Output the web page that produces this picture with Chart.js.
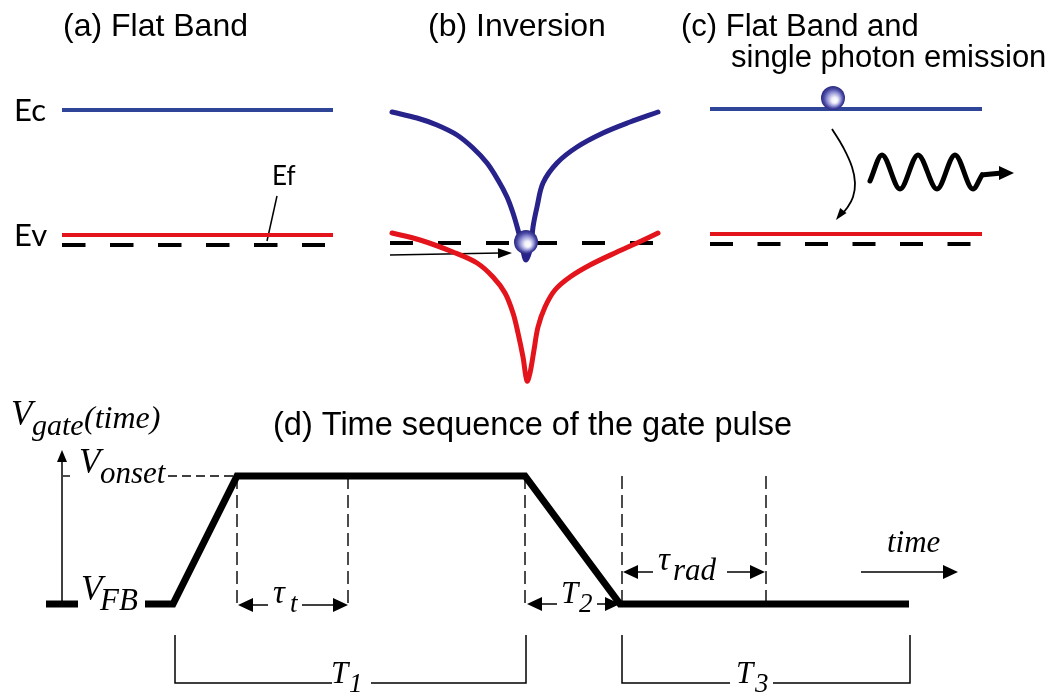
<!DOCTYPE html>
<html>
<head>
<meta charset="utf-8">
<script src="https://cdn.jsdelivr.net/npm/chart.js@4.4.1/dist/chart.umd.min.js"></script>
<style>
html,body{margin:0;padding:0;background:#ffffff;}
#wrap{width:1057px;height:696px;}
</style>
</head>
<body>
<div id="wrap"><canvas id="c" width="1057" height="696"></canvas></div>
<script>
// ---------- DATA (diagram units) ----------
// Panel (a) flat band levels
const flatAX = [62, 333];
const flatAEfX = [62, 325];
const levelEcA = 110, levelEvA = 235, levelEfA = 245;
const efPointerX = [277, 267], efPointerY = [196, 241];

// Panel (b) inversion: band-bending curves
const invEcX = [392, 417, 437, 457, 473, 487, 498, 507, 513, 518, 522, 526, 531, 533, 537, 543, 557, 577, 603, 630, 658];
const invEcY = [112, 118, 125, 135, 148, 163, 180, 197, 213, 230, 246, 260, 246, 227, 207, 183, 163, 147, 133, 122, 112];
const invEvX = [392, 420, 453, 477, 493, 505, 513, 518, 523, 527, 530, 534, 538, 545, 555, 570, 590, 617, 637, 658];
const invEvY = [233, 240, 252, 263, 277, 293, 313, 333, 357, 381, 373, 350, 327, 307, 290, 277, 265, 252, 243, 233];
const invEfX = [390, 655], levelEfB = 243;
const invArrowX = [390, 500], invArrowY = [255, 253];

// Panel (c) flat band + emission
const flatCX = [710, 982];
const flatCEfX = [710, 975];
const levelEcC = 109, levelEvC = 234, levelEfC = 244;
const recombX = [832, 843, 852, 855, 853, 847, 840];
const recombY = [129, 147, 167, 183, 197, 208, 216];
const photonX = [870, 882, 900, 918, 937, 955, 973, 982];
const photonY = [181, 155, 189, 155, 189, 155, 189, 175];
const photonTailX = [981, 1002], photonTailY = [175, 173];

// Panel (d) gate pulse
const pulseTime = [145, 173, 237, 525, 620, 909];
const pulseVolt = [604, 604, 476, 476, 604, 604];
const vAxisX = [62, 62], vAxisY = [604, 462];
const vTickX = [46, 78], vTickY = [604, 604];
const onsetDashX = [168, 236], onsetDash2X = [63, 70], levelOnset = 476;
const markerTimes = [237, 348, 525, 622, 766];
const markerTop = [476, 476, 476, 476, 476];
const markerBottom = [608, 608, 608, 602, 604];
const tauTSegX = [[250, 268], [302, 336]], tauTY = 605;
const t2SegX = [[538, 557], [597, 608]], t2Y = 604;
const tauRadSegX = [[634, 653], [727, 752]], tauRadY = 572;
const timeArrowX = [861, 945], timeArrowY = 572;
const bracketT1X = [[175, 175, 332], [371, 526, 526]];
const bracketT1Y = [[635, 683, 683], [683, 683, 635]];
const bracketT3X = [[622, 622, 730], [773, 910, 910]];
const bracketT3Y = [[635, 683, 683], [683, 683, 635]];

// ---------- helpers ----------
const BLUE_A = '#2f4598', BLUE_B = '#27238a', RED = '#e3141b', BLACK = '#000000';
function pts(xs, ys) { return xs.map((x, i) => ({ x: x, y: Array.isArray(ys) ? ys[i] : ys })); }
function ds(data, color, width, extra) {
  return Object.assign({ data: data, showLine: true, borderColor: color, borderWidth: width,
    pointRadius: 0, pointHoverRadius: 0, fill: false, tension: 0, borderCapStyle: 'butt' }, extra || {});
}

const datasets = [];
// (a)
datasets.push(ds(pts(flatAX, levelEcA), BLUE_A, 4));
datasets.push(ds(pts(flatAX, levelEvA), RED, 4));
datasets.push(ds(pts(flatAEfX, levelEfA), BLACK, 4, { borderDash: [23.5, 24.5] }));
datasets.push(ds(pts(efPointerX, efPointerY), BLACK, 1.5));
// (b)
datasets.push(ds(pts(invEcX, invEcY), BLUE_B, 5, { tension: 0.35, borderCapStyle: 'round' }));
datasets.push(ds(pts(invEvX, invEvY), RED, 5, { tension: 0.35, borderCapStyle: 'round' }));
datasets.push(ds(pts(invEfX, levelEfB), BLACK, 4, { borderDash: [23, 25] }));
datasets.push(ds(pts(invArrowX, invArrowY), BLACK, 1.5));
// (c)
datasets.push(ds(pts(flatCX, levelEcC), BLUE_A, 4));
datasets.push(ds(pts(flatCX, levelEvC), RED, 4));
datasets.push(ds(pts(flatCEfX, levelEfC), BLACK, 4, { borderDash: [23, 24.5] }));
datasets.push(ds(pts(recombX, recombY), BLACK, 1.8, { tension: 0.4 }));
datasets.push(ds(pts(photonX, photonY), BLACK, 5, { cubicInterpolationMode: 'monotone', borderJoinStyle: 'round', borderCapStyle: 'round' }));
datasets.push(ds(pts(photonTailX, photonTailY), BLACK, 5));
// (d)
datasets.push(ds(pts(vAxisX, vAxisY), BLACK, 1.5));
datasets.push(ds(pts(vTickX, vTickY), BLACK, 7));
datasets.push(ds(pts(pulseTime, pulseVolt), BLACK, 7, { borderJoinStyle: 'miter' }));
datasets.push(ds(pts(onsetDashX, levelOnset), BLACK, 1.4, { borderDash: [9, 5] }));
datasets.push(ds(pts(onsetDash2X, levelOnset), BLACK, 1.4));
markerTimes.forEach((t, i) => {
  datasets.push(ds(pts([t, t], [markerTop[i], markerBottom[i]]), BLACK, 1.4, { borderDash: [13, 6] }));
});
tauTSegX.forEach(s => datasets.push(ds(pts(s, tauTY), BLACK, 1.5)));
t2SegX.forEach(s => datasets.push(ds(pts(s, t2Y), BLACK, 1.5)));
tauRadSegX.forEach(s => datasets.push(ds(pts(s, tauRadY), BLACK, 1.5)));
datasets.push(ds(pts(timeArrowX, timeArrowY), BLACK, 1.5));
bracketT1X.forEach((s, i) => datasets.push(ds(pts(s, bracketT1Y[i]), BLACK, 1.5, { borderJoinStyle: 'miter' })));
bracketT3X.forEach((s, i) => datasets.push(ds(pts(s, bracketT3Y[i]), BLACK, 1.5, { borderJoinStyle: 'miter' })));

// ---------- annotations (arrowheads, balls, text) ----------
const arrowHeads = [
  { tip: [62, 450], from: [62, 470], len: 12, half: 5 },
  { tip: [238, 605], from: [260, 605], len: 15, half: 7 },
  { tip: [348, 605], from: [320, 605], len: 15, half: 7 },
  { tip: [527, 604], from: [550, 604], len: 15, half: 7 },
  { tip: [620, 604], from: [600, 604], len: 15, half: 7 },
  { tip: [623, 572], from: [640, 572], len: 15, half: 7 },
  { tip: [765, 572], from: [740, 572], len: 15, half: 7 },
  { tip: [958, 572], from: [930, 572], len: 15, half: 7 },
  { tip: [512, 253], from: [390, 255], len: 14, half: 5 },
  { tip: [836, 220], from: [846, 207], len: 12, half: 4 },
  { tip: [1014, 173], from: [990, 173], len: 15, half: 7 }
];
const balls = [ { x: 526, y: 242, r: 12 }, { x: 833, y: 98, r: 12 } ];

const SANS = '"Liberation Sans", Arial, sans-serif';
const CAL = 'Lato, "Open Sans", sans-serif';
const SERIF_I = 'italic {s}px "Liberation Serif", "Times New Roman", serif';
function serif(s) { return SERIF_I.replace('{s}', s); }
const labels = [
  { t: '(a) Flat Band', x: 63, y: 36, f: '32px ' + SANS },
  { t: '(b) Inversion', x: 428, y: 36, f: '32px ' + SANS },
  { t: '(c) Flat Band and', x: 681, y: 36, f: '31px ' + SANS },
  { t: 'single photon emission', x: 731, y: 67, f: '31px ' + SANS },
  { t: 'Ec', x: 14, y: 121, f: '31px ' + CAL },
  { t: 'Ev', x: 14, y: 246, f: '31px ' + CAL },
  { t: 'Ef', x: 272, y: 185, f: '26px ' + CAL },
  { t: '(d) Time sequence of the gate pulse', x: 273, y: 435, f: '32.5px ' + SANS },
  { t: 'V', x: 11, y: 425, f: serif(35) },
  { t: 'gate', x: 32, y: 435, f: serif(30) },
  { t: '(time)', x: 84, y: 428, f: serif(32) },
  { t: 'V', x: 79, y: 473, f: serif(35) },
  { t: 'onset', x: 100, y: 483, f: serif(31) },
  { t: 'V', x: 81, y: 600, f: serif(35) },
  { t: 'FB', x: 100, y: 610, f: serif(31) },
  { t: '\u03C4', x: 273, y: 603, f: serif(33) },
  { t: 't', x: 290, y: 612, f: serif(27) },
  { t: 'T', x: 561, y: 603, f: serif(31) },
  { t: '2', x: 579, y: 612, f: serif(27) },
  { t: '\u03C4', x: 658, y: 570, f: serif(33) },
  { t: 'rad', x: 673, y: 580, f: serif(31) },
  { t: 'time', x: 887, y: 552, f: serif(31) },
  { t: 'T', x: 331, y: 683, f: serif(31) },
  { t: '1', x: 349, y: 692, f: serif(27) },
  { t: 'T', x: 736, y: 683, f: serif(31) },
  { t: '3', x: 755, y: 692, f: serif(27) }
];

const annotate = {
  id: 'annotate',
  afterDatasetsDraw(chart) {
    const ctx = chart.ctx, sx = chart.scales.x, sy = chart.scales.y;
    const X = v => sx.getPixelForValue(v), Y = v => sy.getPixelForValue(v);
    ctx.save();
    // arrowheads
    ctx.fillStyle = BLACK;
    arrowHeads.forEach(a => {
      const tx = X(a.tip[0]), ty = Y(a.tip[1]), fx = X(a.from[0]), fy = Y(a.from[1]);
      const ang = Math.atan2(ty - fy, tx - fx);
      const bx = tx - a.len * Math.cos(ang), by = ty - a.len * Math.sin(ang);
      const nx = -Math.sin(ang) * a.half, ny = Math.cos(ang) * a.half;
      ctx.beginPath();
      ctx.moveTo(tx, ty);
      ctx.lineTo(bx + nx, by + ny);
      ctx.lineTo(bx - nx, by - ny);
      ctx.closePath();
      ctx.fill();
    });
    // balls (carriers)
    balls.forEach(b => {
      const cx = X(b.x), cy = Y(b.y), r = b.r;
      const g = ctx.createRadialGradient(cx + 0.2 * r, cy + 0.25 * r, 0, cx, cy, r);
      g.addColorStop(0, '#ffffff');
      g.addColorStop(0.25, '#f0f0fa');
      g.addColorStop(0.55, '#9a9ad8');
      g.addColorStop(0.8, '#4a4aa6');
      g.addColorStop(1, '#28287e');
      ctx.beginPath();
      ctx.arc(cx, cy, r, 0, Math.PI * 2);
      ctx.fillStyle = g;
      ctx.fill();
    });
    // text
    ctx.fillStyle = BLACK;
    ctx.textBaseline = 'alphabetic';
    ctx.textAlign = 'left';
    labels.forEach(l => {
      ctx.font = l.f;
      ctx.fillText(l.t, X(l.x), Y(l.y));
    });
    ctx.restore();
  }
};

new Chart(document.getElementById('c'), {
  type: 'scatter',
  data: { datasets: datasets },
  options: {
    responsive: false,
    animation: false,
    events: [],
    layout: { padding: 0 },
    plugins: { legend: { display: false }, tooltip: { enabled: false }, title: { display: false } },
    scales: {
      x: { type: 'linear', min: 0, max: 1057, display: false },
      y: { type: 'linear', min: 0, max: 696, reverse: true, display: false }
    }
  },
  plugins: [annotate]
});
</script>
</body>
</html>
